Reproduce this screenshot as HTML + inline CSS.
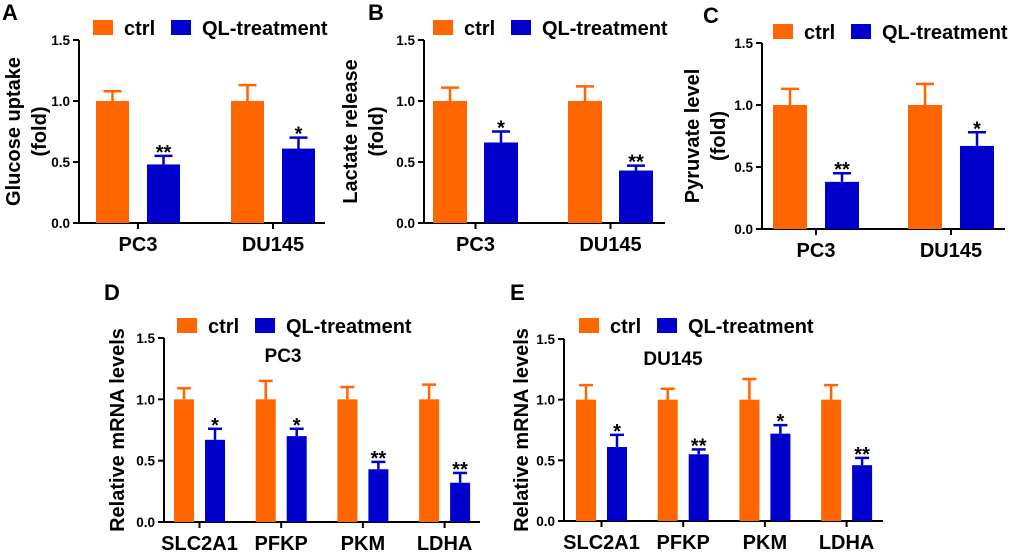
<!DOCTYPE html>
<html><head><meta charset="utf-8"><style>
html,body{margin:0;padding:0;background:#fff;}
svg{display:block;font-family:"Liberation Sans",Arial,sans-serif;font-weight:bold;}
</style></head><body>
<svg id="fig" width="1020" height="552" viewBox="0 0 1020 552"></svg>
<script>
const NS="http://www.w3.org/2000/svg";
const svg=document.getElementById('fig');
const ORANGE="#FF6600", BLUE="#0000CC";
const yTicks=[0,0.5,1.0,1.5];
const yTickLabels=["0.0","0.5","1.0","1.5"];
// Panel A
const catsA=["PC3","DU145"];
const ctrlA=[1.0,1.0], ctrlErrA=[0.08,0.13];
const qlA=[0.48,0.61], qlErrA=[0.07,0.09], sigA=["**","*"];
// Panel B
const catsB=["PC3","DU145"];
const ctrlB=[1.0,1.0], ctrlErrB=[0.11,0.12];
const qlB=[0.66,0.43], qlErrB=[0.09,0.04], sigB=["*","**"];
// Panel C
const catsC=["PC3","DU145"];
const ctrlC=[1.0,1.0], ctrlErrC=[0.13,0.17];
const qlC=[0.38,0.67], qlErrC=[0.07,0.11], sigC=["**","*"];
// Panel D
const catsD=["SLC2A1","PFKP","PKM","LDHA"];
const ctrlD=[1.0,1.0,1.0,1.0], ctrlErrD=[0.09,0.15,0.10,0.12];
const qlD=[0.67,0.70,0.43,0.32], qlErrD=[0.09,0.06,0.06,0.08], sigD=["*","*","**","**"];
// Panel E
const catsE=["SLC2A1","PFKP","PKM","LDHA"];
const ctrlE=[1.0,1.0,1.0,1.0], ctrlErrE=[0.12,0.09,0.17,0.12];
const qlE=[0.61,0.55,0.72,0.46], qlErrE=[0.10,0.04,0.07,0.06], sigE=["*","**","*","**"];

function el(tag,attrs,parent,text){const e=document.createElementNS(NS,tag);for(const k in attrs)e.setAttribute(k,attrs[k]);if(text!==undefined)e.textContent=text;(parent||svg).appendChild(e);return e;}

function panel(cfg){
  const g=el('g',{});
  
  
  const y=v=>cfg.y0+(cfg.y15-cfg.y0)*v/1.5;
  const L=el('text',{x:cfg.lx,y:cfg.ly,'font-size':22,fill:'#000'},g,cfg.letter);
  
  
  const lg=el('g',{},g);
  
  
  el('rect',{x:cfg.legX,y:cfg.legY,width:20,height:15,fill:ORANGE},lg);
  el('text',{x:cfg.legX+31,y:cfg.legY+15,'font-size':20},lg,'ctrl');
  el('rect',{x:cfg.legX+78,y:cfg.legY,width:20,height:15,fill:BLUE},lg);
  el('text',{x:cfg.legX+109,y:cfg.legY+15,'font-size':20},lg,'QL-treatment');
  if(cfg.sub){const s=el('text',{x:cfg.subX,y:cfg.subY,'font-size':19,'text-anchor':'middle'},g,cfg.sub);
    }
  el('line',{x1:cfg.ax,y1:y(1.5),x2:cfg.ax,y2:y(0)+1,stroke:'#000','stroke-width':2},g);
  yTicks.forEach((t,i)=>{
    el('line',{x1:cfg.ax-6,y1:y(t),x2:cfg.ax,y2:y(t),stroke:'#000','stroke-width':2},g);
    const tl=el('text',{x:cfg.ax-9,y:y(t)+5,'font-size':13.5,'text-anchor':'end'},g,yTickLabels[i]);
    
  });
  const yt=el('text',{transform:`translate(${cfg.ytx},${(y(0)+y(1.5))/2}) rotate(-90)`,'font-size':20,'text-anchor':'middle'},g);
  
  cfg.ytitle.forEach((line,i)=>el('tspan',{x:0,dy:i===0?0:26},yt,line));
  el('line',{x1:cfg.ax-1,y1:y(0),x2:cfg.axEnd,y2:y(0),stroke:'#000','stroke-width':2},g);
  cfg.cats.forEach((c,i)=>{
    const x0=cfg.first+i*cfg.step;
    const xb=x0+cfg.bw+cfg.gap;
    const cx=(x0+xb+cfg.bw)/2;
    el('line',{x1:cx,y1:y(0),x2:cx,y2:y(0)+6,stroke:'#000','stroke-width':2},g);
    const xl=el('text',{x:cx,y:y(0)+28,'font-size':20,'text-anchor':'middle'},g,c);
    
    [[x0,cfg.ctrl[i],cfg.ctrlErr[i],ORANGE,'ctrl'],[xb,cfg.ql[i],cfg.qlErr[i],BLUE,'ql']].forEach(([bx,v,e,col,nm])=>{
      const r=el('rect',{x:bx,y:y(v),width:cfg.bw,height:y(0)-y(v),fill:col},g);
      
      
      const m=bx+cfg.bw/2;
      el('line',{x1:m,y1:y(v),x2:m,y2:y(v+e),stroke:col,'stroke-width':2.5},g);
      el('line',{x1:m-cfg.capw,y1:y(v+e),x2:m+cfg.capw,y2:y(v+e),stroke:col,'stroke-width':2.5},g);
    });
    const m=xb+cfg.bw/2;
    const st=el('text',{x:m,y:y(cfg.ql[i]+cfg.qlErr[i])+3,'font-size':20,'text-anchor':'middle'},g,cfg.sig[i]);
    
  });
}
panel({letter:'A',lx:2,ly:20,legX:93,legY:20,ax:79,axEnd:325,y0:223,y15:40,ytx:20,ytitle:['Glucose uptake','(fold)'],
  cats:catsA,ctrl:ctrlA,ctrlErr:ctrlErrA,ql:qlA,qlErr:qlErrA,sig:sigA,first:96,step:135,bw:33,gap:18,capw:9});
panel({letter:'B',lx:368,ly:20,legX:433,legY:20,ax:424,axEnd:665,y0:223,y15:40,ytx:357,ytitle:['Lactate release','(fold)'],
  cats:catsB,ctrl:ctrlB,ctrlErr:ctrlErrB,ql:qlB,qlErr:qlErrB,sig:sigB,first:433,step:135,bw:34,gap:17,capw:9});
panel({letter:'C',lx:703,ly:23,legX:773,legY:24,ax:762,axEnd:1005,y0:229,y15:43,ytx:699,ytitle:['Pyruvate level','(fold)'],
  cats:catsC,ctrl:ctrlC,ctrlErr:ctrlErrC,ql:qlC,qlErr:qlErrC,sig:sigC,first:773,step:135,bw:34,gap:18,capw:9});
panel({letter:'D',lx:104,ly:300,legX:177,legY:318,ax:164,axEnd:480,y0:522,y15:338,ytx:124,ytitle:['Relative mRNA levels'],sub:'PC3',subX:283,subY:362,
  cats:catsD,ctrl:ctrlD,ctrlErr:ctrlErrD,ql:qlD,qlErr:qlErrD,sig:sigD,first:174,step:81.7,bw:20,gap:11,capw:7});
panel({letter:'E',lx:510,ly:300,legX:579,legY:318,ax:564,axEnd:883,y0:521,y15:339,ytx:528,ytitle:['Relative mRNA levels'],sub:'DU145',subX:673,subY:365,
  cats:catsE,ctrl:ctrlE,ctrlErr:ctrlErrE,ql:qlE,qlErr:qlErrE,sig:sigE,first:576,step:81.7,bw:20,gap:11,capw:7});
</script>
</body></html>
